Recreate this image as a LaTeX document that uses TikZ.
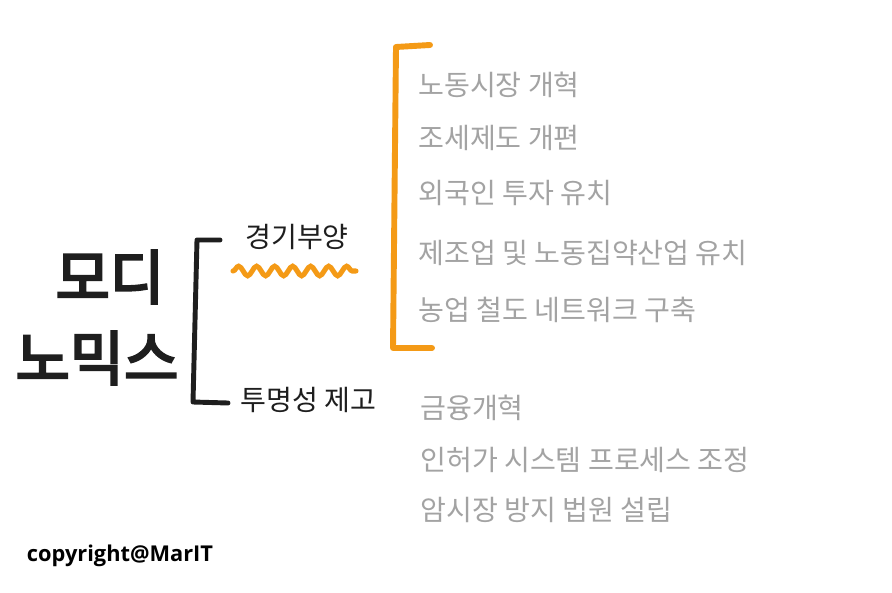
\documentclass[tikz,border=0pt]{standalone}
\usepackage{fontspec}
\setmainfont{Open Sans}
\newfontfamily\kr{Noto Sans CJK KR}
\newfontfamily\krgrueso{Noto Sans CJK KR}[FakeBold=4]
\usetikzlibrary{positioning,decorations.pathmorphing}
\definecolor{naranja}{HTML}{F49A16}
\definecolor{gris}{HTML}{A3A3A3}
\definecolor{tinta}{HTML}{1E1E1E}

\begin{document}
\begin{tikzpicture}[x=0.025cm, y=-0.025cm,
      titulo/.style={font=\krgrueso\fontsize{42}{42}\selectfont, text=tinta, inner sep=0pt},
      rama/.style={font=\kr\fontsize{20}{20}\selectfont, text=tinta, anchor=west, inner sep=0pt},
      item/.style={font=\kr\fontsize{20}{20}\selectfont, text=gris, anchor=west, inner sep=0pt},
      llave/.style={line width=3.5pt, line cap=round, line join=round}]
    \useasboundingbox[fill=white] (0,0) rectangle (892,592);

    \node[titulo] (modi) at (110,277) {모디};
    \node[titulo] (nomics) at (97,358) {노믹스};

    \node[rama] (gyeong) at (245,237) {경기부양};
    \node[rama] (tumyeong) at (240,400) {투명성 제고};

    \node[item] (l1) at (418,85) {노동시장 개혁};
    \node[item, below=1.33cm of l1.west, anchor=west] (l2) {조세제도 개편};
    \node[item, below=1.37cm of l2.west, anchor=west] (l3) {외국인 투자 유치};
    \node[item, below=1.5cm of l3.west, anchor=west] (l4) {제조업 및 노동집약산업 유치};
    \node[item, below=1.42cm of l4.west, anchor=west] (l5) {농업 철도 네트워크 구축};

    \node[item] (m1) at (420,408) {금융개혁};
    \node[item, below=1.3cm of m1.west, anchor=west] (m2) {인허가 시스템 프로세스 조정};
    \node[item, below=1.25cm of m2.west, anchor=west] (m3) {암시장 방지 법원 설립};

    % llaves
    \draw[llave, tinta] (220,240) -- (197,240) -- (193,402) -- (228,403);
    \draw[llave, naranja, line width=4.2pt] (430,45) -- (396,47) -- (393,348) -- (432,348);
    \draw[naranja, line width=3.6pt, line cap=round,
          decorate, decoration={snake, segment length=0.45cm, amplitude=0.12cm}]
          (233,271) -- (356,271);

    \node[font=\bfseries\fontsize{15.5}{15.5}\selectfont, text=black, inner sep=0pt] (copy) at (120,556) {copyright@MarIT};
  \end{tikzpicture}
\end{document}
